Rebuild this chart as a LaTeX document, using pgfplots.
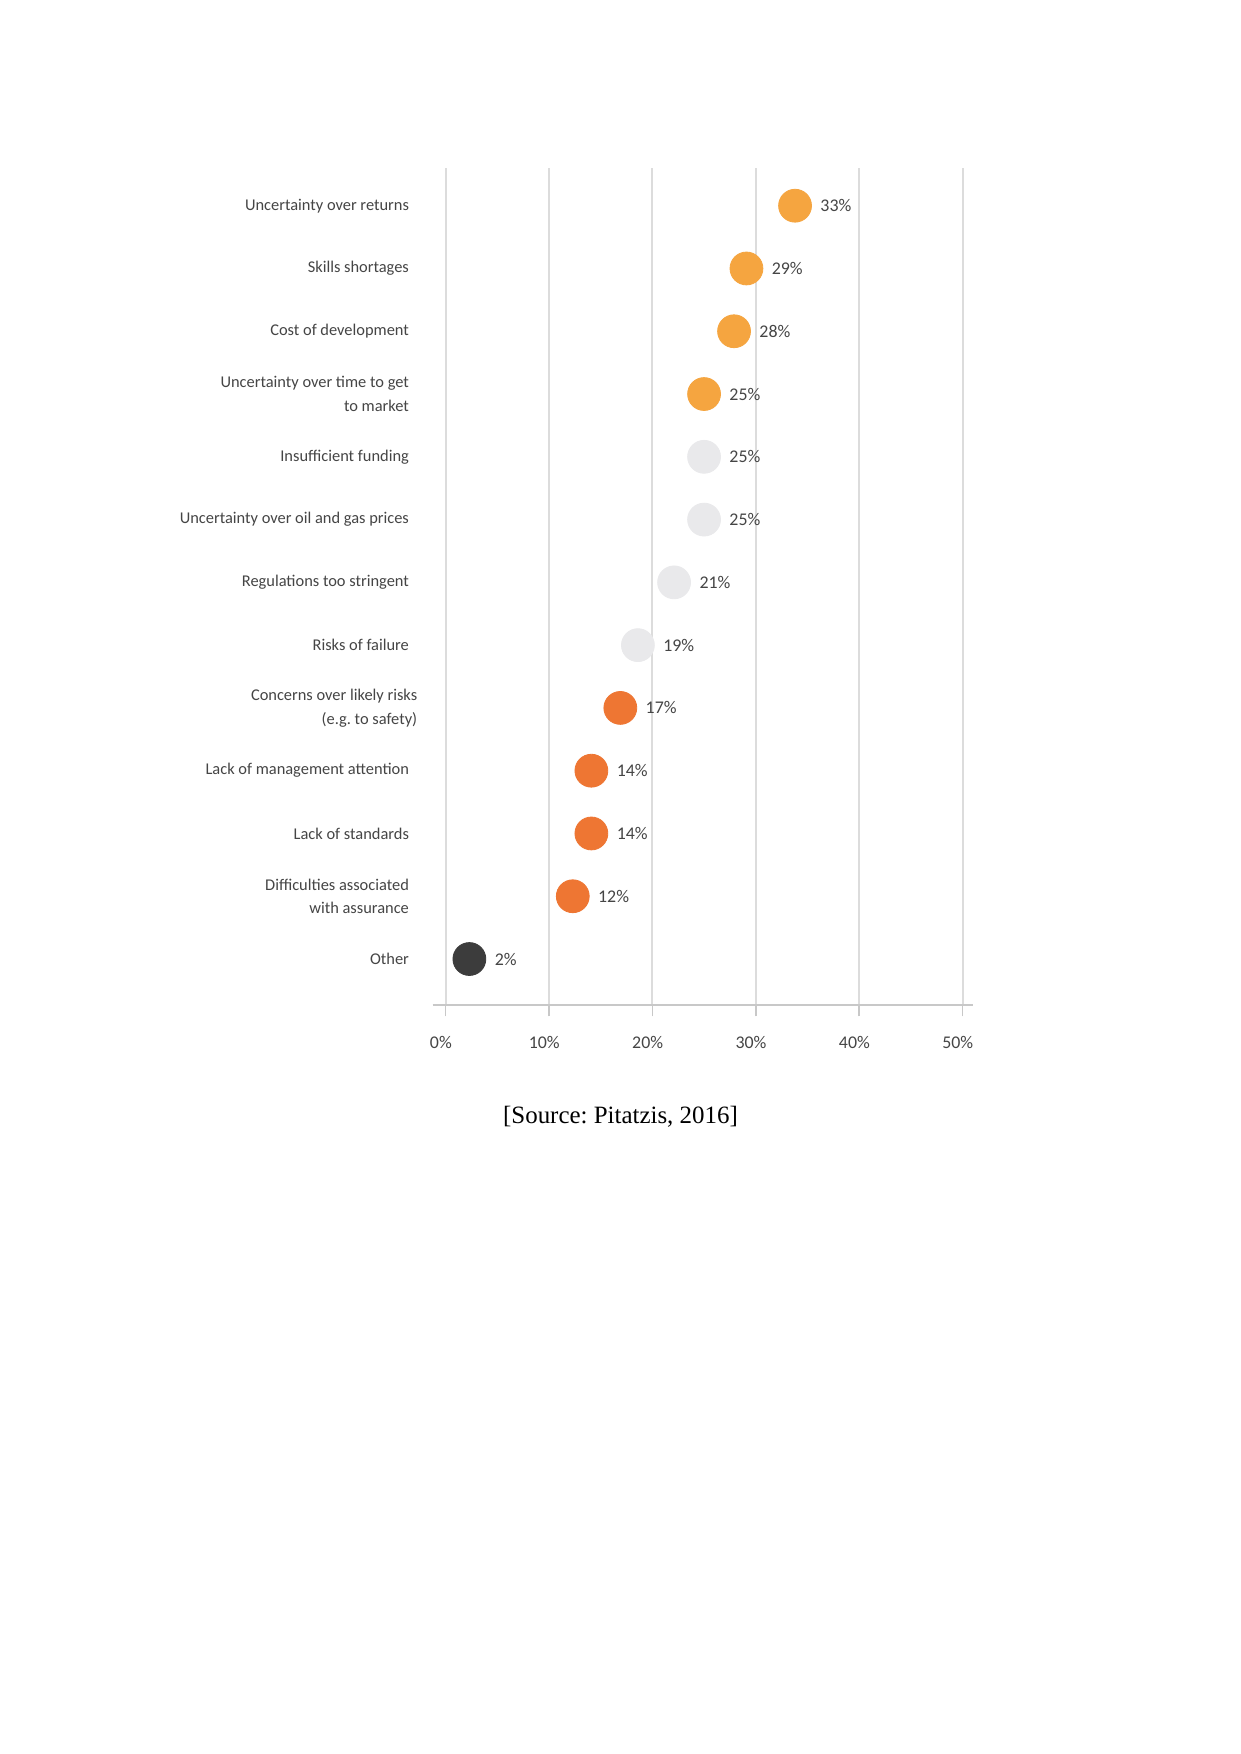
\documentclass[border=0pt]{standalone}
\usepackage{fontspec}
\setmainfont{Liberation Serif}
\newfontfamily\labfont{Carlito}
\usepackage{pgfplots}
\pgfplotsset{compat=1.18}
\definecolor{lorange}{HTML}{F5A540}
\definecolor{dorange}{HTML}{EE7633}
\definecolor{lgray}{HTML}{E9E9EB}
\definecolor{dgray}{HTML}{3C3C3C}
\definecolor{gridgray}{HTML}{DCDCDC}
\definecolor{axgray}{HTML}{C8C8C8}
\definecolor{labgray}{HTML}{454545}
\begin{document}
\frenchspacing
\begin{tikzpicture}
\useasboundingbox (0,0) rectangle (210mm,296.82mm);
\fill[white] (0,0) rectangle (210mm,296.82mm);
\begin{axis}[
  at={(73.22mm,126.74mm)}, anchor=south west,
  scale only axis, width=91.38mm, height=141.64mm,
  xmin=-1.25, xmax=50.98, ymin=-0.733, ymax=12.6,
  axis x line=bottom, axis y line=left,
  x axis line style={-, draw=axgray, line width=0.25mm},
  y axis line style={draw=none},
  xtick={0,10,20,30,40,50},
  xticklabels={0\%,10\%,20\%,30\%,40\%,50\%},
  xmajorgrids, major grid style={draw=gridgray, line width=0.35mm},
  tick align=outside, major tick length=1.9mm,
  xtick style={draw=axgray, line width=0.25mm},
  ytick={0,1,2,3,4,5,6,7,8,9,10,11,12}, ytick style={draw=none},
  yticklabels={Other, {Difficulties associated\\with assurance}, Lack of standards, Lack of management attention, {Concerns over likely risks\hspace*{-1.4mm}\\(e.g. to safety)\hspace*{-1.4mm}}, Risks of failure, Regulations too stringent, Uncertainty over oil and gas prices, Insufficient funding, {Uncertainty over time to get\\to market}, Cost of development, Skills shortages, Uncertainty over returns},
  yticklabel style={font=\labfont\fontsize{7.9}{11.4}\selectfont, text=labgray, align=right, inner sep=0pt, xshift=-2.05mm},
  xticklabel style={font=\labfont\fontsize{8.6}{10}\selectfont, text=labgray, xshift=-0.8mm, yshift=-2.2mm},
  /pgf/number format/assume math mode=true,
  clip=false,
  only marks,
  point meta=explicit,
  nodes near coords={\pgfmathprintnumber[fixed,precision=0]{\pgfplotspointmeta}\%},
  every node near coord/.append style={anchor=west, inner sep=0pt, xshift=4.23mm, font=\labfont\fontsize{8.6}{10}\selectfont, text=labgray},
]
\addplot[mark=*, mark size=2.78mm, mark options={draw=lorange, fill=lorange}] table[x=x, y=y, meta=lab] {
x y lab
33.8 12 33
29.1 11 29
27.9 10 28
25.0 9 25
};
\addplot[mark=*, mark size=2.78mm, mark options={draw=lgray, fill=lgray}] table[x=x, y=y, meta=lab] {
x y lab
25.0 8 25
25.0 7 25
22.1 6 21
18.6 5 19
};
\addplot[mark=*, mark size=2.78mm, mark options={draw=dorange, fill=dorange}] table[x=x, y=y, meta=lab] {
x y lab
16.9 4 17
14.1 3 14
14.1 2 14
12.3 1 12
};
\addplot[mark=*, mark size=2.78mm, mark options={draw=dgray, fill=dgray}] table[x=x, y=y, meta=lab] {
x y lab
2.3 0 2
};
\end{axis}
\node[font=\fontsize{12}{14}\selectfont] at (105mm,107.75mm) {[Source: Pitatzis, 2016]};
\end{tikzpicture}
\end{document}
